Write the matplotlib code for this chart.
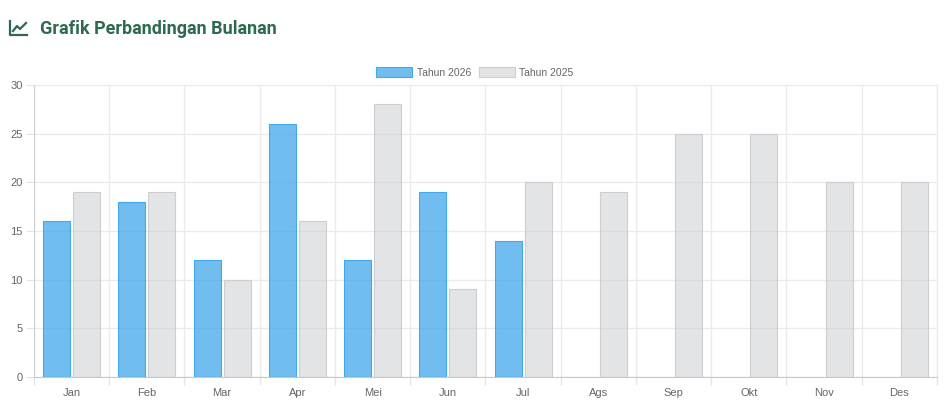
import matplotlib.pyplot as plt
import numpy as np
from matplotlib.lines import Line2D

bulan = ["Jan", "Feb", "Mar", "Apr", "Mei", "Jun", "Jul", "Ags", "Sep", "Okt", "Nov", "Des"]
tahun_2026 = [16, 18, 12, 26, 12, 19, 14, np.nan, np.nan, np.nan, np.nan, np.nan]
tahun_2025 = [19, 19, 10, 16, 28, 9, 20, 19, 25, 25, 20, 20]

plt.rcParams['font.family'] = ['Liberation Sans', 'DejaVu Sans']

fig = plt.figure(figsize=(9.5, 4.07), dpi=100)
ax = fig.add_axes([34/950, 30/407, 903/950, 292/407])

x = np.arange(len(bulan))
w = 0.8 / 2 * 0.9
off = 0.2
ax.bar(x - off, tahun_2026, width=w, color=(54/255, 162/255, 235/255, 0.7),
       edgecolor=(54/255, 162/255, 235/255, 0.9), linewidth=0.8, label="Tahun 2026", zorder=3)
ax.bar(x + off, tahun_2025, width=w, color=(201/255, 203/255, 207/255, 0.5),
       edgecolor=(201/255, 203/255, 207/255, 0.9), linewidth=0.8, label="Tahun 2025", zorder=3)

ax.set_xlim(-0.5, 11.5)
ax.set_ylim(0, 30)
ax.set_yticks(range(0, 31, 5))
ax.set_xticks(x)
ax.set_xticklabels(bulan)
ax.set_xticks(np.arange(-0.5, 12, 1), minor=True)
ax.tick_params(axis='x', which='major', length=0, pad=8, labelsize=8, labelcolor='#666666')
ax.tick_params(axis='x', which='minor', length=6, color='#e4e4e4', width=1)
ax.tick_params(axis='y', length=6, color='#e4e4e4', labelsize=8, labelcolor='#666666', pad=2)
ax.grid(axis='x', which='minor', color='#ebebeb', linewidth=1, zorder=0)
ax.grid(axis='y', which='major', color='#ebebeb', linewidth=1, zorder=0)
for s in ['top', 'right']:
    ax.spines[s].set_color('#ebebeb')
ax.spines['left'].set_color('#d0d0d0')
ax.spines['bottom'].set_color('#c8c8c8')

leg = ax.legend(loc='lower center', bbox_to_anchor=((475 - 34) / 903, 1.0), ncol=2, frameon=False,
                fontsize=7.5, handlelength=3.4, handleheight=1.05, columnspacing=0.8,
                handletextpad=0.45, borderaxespad=0.3)
for t in leg.get_texts():
    t.set_color('#666666')

# judul dengan ikon grafik
hijau = '#2d6a4f'
fig.text(40/950, 1 - 29/407, "Grafik Perbandingan Bulanan", fontsize=13, fontweight='bold',
         family=['Roboto', 'DejaVu Sans'], color=hijau, va='center', ha='left')
fig.add_artist(Line2D([10/950, 10/950, 27/950], [1 - 21/407, 1 - 35/407, 1 - 35/407],
                      color=hijau, linewidth=1.6, transform=fig.transFigure))
fig.add_artist(Line2D([13/950, 17/950, 20/950, 26/950], [1 - 31/407, 1 - 26/407, 1 - 29/407, 1 - 23/407],
                      color=hijau, linewidth=1.6, transform=fig.transFigure))

fig.savefig("out.png", dpi=100, facecolor='white')
